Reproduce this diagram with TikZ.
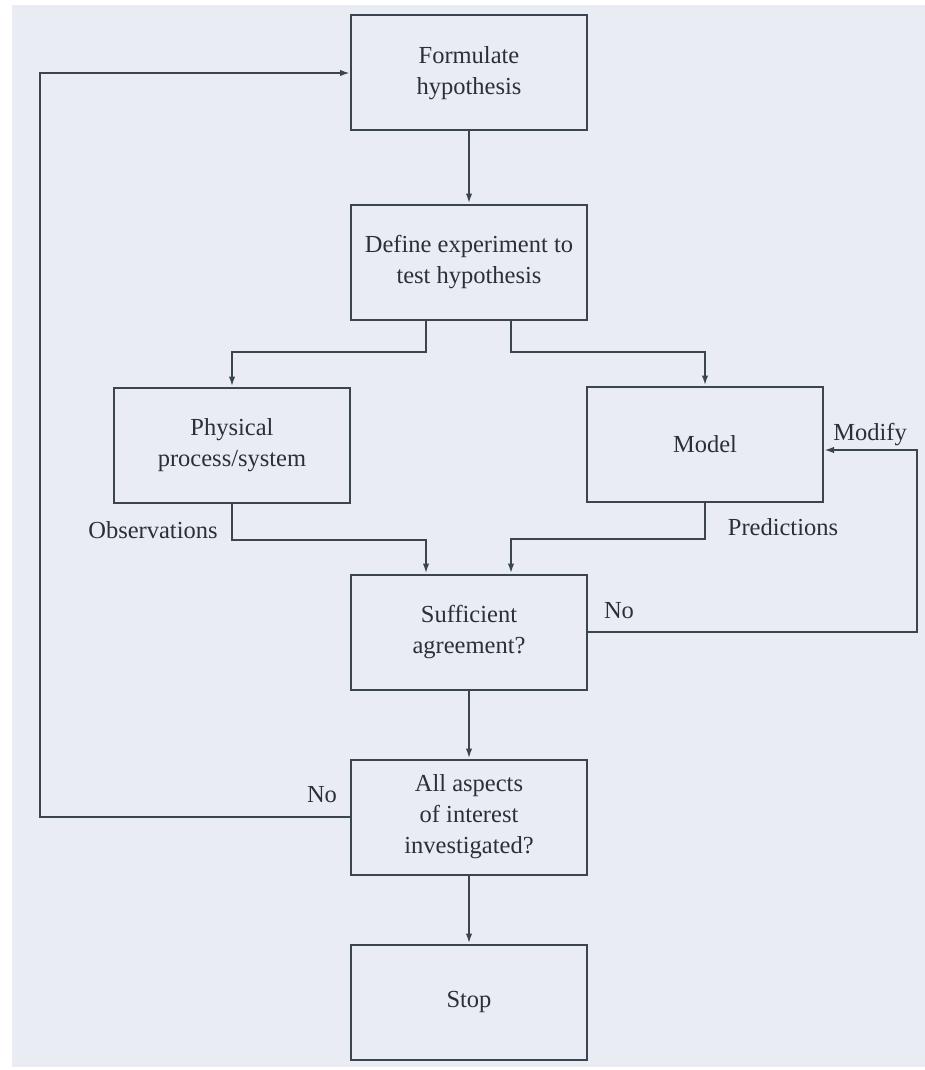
\documentclass[tikz,border=0pt]{standalone}
\usepackage{fontspec}
\setmainfont{Liberation Serif}
\usetikzlibrary{arrows.meta}
\definecolor{paper}{HTML}{E9EDF3}
\definecolor{ink}{HTML}{3A454E}
\definecolor{txt}{HTML}{2A3036}
\tikzset{
  stepbox/.style={draw=ink, line width=2pt, rectangle, minimum width=236pt,
    minimum height=115pt, align=center, text=txt, inner sep=0pt,
    font=\fontsize{24.5}{31}\selectfont},
  lbl/.style={text=txt, inner sep=0pt, font=\fontsize{24.5}{31}\selectfont},
  link/.style={draw=ink, line width=2pt},
  arr/.style={link, -{Latex[length=10pt,width=6.5pt]}},
}
\begin{document}
\begin{tikzpicture}[x=1pt, y=-1pt]
  % page
  \useasboundingbox (0,0) rectangle (925,1070);
  \fill[white] (0,0) rectangle (925,1070);
  \fill[paper] (12,5) rectangle (925,1067);

  % boxes
  \node[stepbox] (form)    at (469,73)   {Formulate\\hypothesis};
  \node[stepbox] (def)     at (469,262)  {Define experiment to\\test hypothesis};
  \node[stepbox] (phys)    at (232,445)  {Physical\\process/system};
  \node[stepbox] (model)   at (705,444)  {Model};
  \node[stepbox] (suff)    at (469,632)  {Sufficient\\agreement?};
  \node[stepbox] (aspects) at (469,817)  {All aspects\\of interest\\investigated?};
  \node[stepbox] (stop)    at (469,1002) {Stop};

  % turning points of the loops
  \coordinate (rt) at (917,450);
  \coordinate (lt) at (40,73);

  % main flow
  \draw[arr] (form.south) -- (def.north);
  \draw[arr] ([xshift=-43pt]def.south) -- ++(0,31) -| (phys.north);
  \draw[arr] ([xshift=42pt]def.south) -- ++(0,31) -| (model.north);
  \draw[arr] (phys.south) -- ++(0,36) -| ([xshift=-43pt]suff.north);
  \draw[arr] (model.south) -- ++(0,36) -| ([xshift=42pt]suff.north);
  \draw[arr] (suff.south) -- (aspects.north);
  \draw[arr] (aspects.south) -- (stop.north);

  % feedback loops
  \draw[arr] (suff.east) -| (rt) -- ([yshift=-6pt]model.east);
  \draw[arr] (aspects.west) -| (lt) -- (form.west);

  % labels
  \node[lbl] (lmod)  at (870,435) {Modify};
  \node[lbl] (lpred) at (783,527) {Predictions};
  \node[lbl] (lobs)  at (153,530) {Observations};
  \node[lbl] (lno1)  at (619,611) {No};
  \node[lbl] (lno2)  at (322,795) {No};
\end{tikzpicture}
\end{document}
